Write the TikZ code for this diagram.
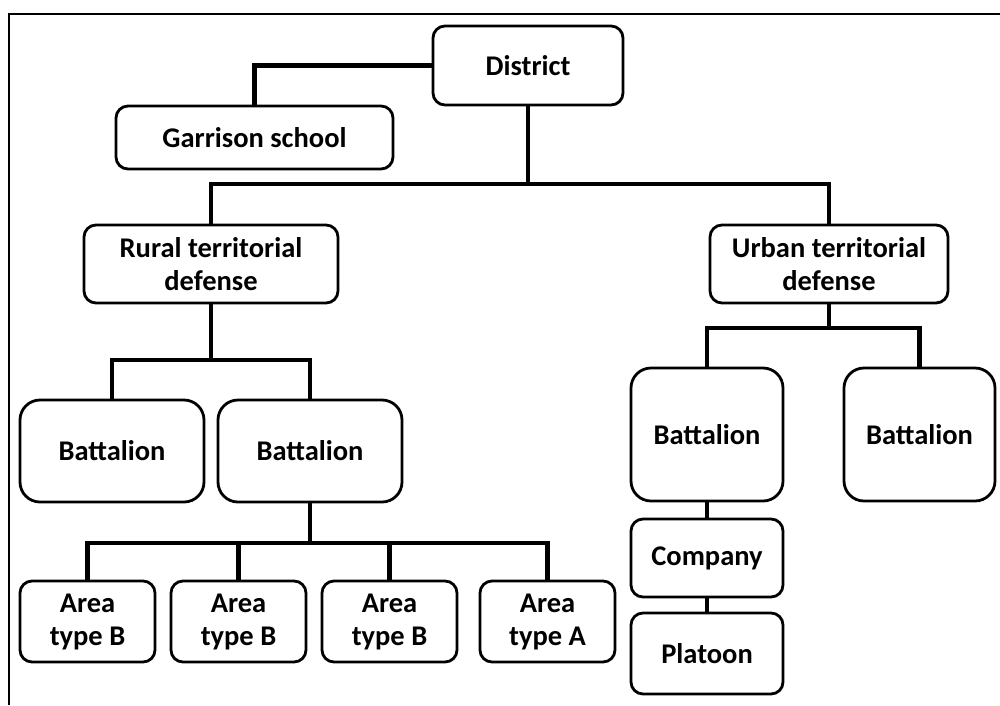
\documentclass[tikz,border=0pt]{standalone}
\usepackage{fontspec}
\setmainfont{Carlito}
\begin{document}
\begin{tikzpicture}[x=1pt,y=-1pt,
  box/.style={draw,line width=2.8pt,rounded corners=12pt,align=center,
    inner sep=0pt,font=\bfseries\fontsize{28.5}{33}\selectfont},
  bigbox/.style={box,rounded corners=20pt},
  conn/.style={line width=4.2pt}]
\useasboundingbox (0,0) rectangle (1000,705);
\draw[line width=1.3pt] (9,705) -- (9,14) -- (1000,14);
\node[box,minimum width=190pt,minimum height=79pt] (district) at (528,65.5) {District};
\node[box,minimum width=277pt,minimum height=63pt] (garrison) at (254.5,137.5) {Garrison school};
\node[box,minimum width=254pt,minimum height=78pt] (rural) at (211,264) {Rural territorial\\defense};
\node[box,minimum width=238pt,minimum height=78pt] (urban) at (829,264) {Urban territorial\\defense};
\node[bigbox,minimum width=184pt,minimum height=102pt] (bl1) at (112,451) {Battalion};
\node[bigbox,minimum width=184pt,minimum height=102pt] (bl2) at (310,451) {Battalion};
\node[box,minimum width=135pt,minimum height=81pt] (a1) at (87.5,621.5) {Area\\type B};
\node[box,minimum width=135pt,minimum height=81pt] (a2) at (238.5,621.5) {Area\\type B};
\node[box,minimum width=135pt,minimum height=81pt] (a3) at (389.5,621.5) {Area\\type B};
\node[box,minimum width=135pt,minimum height=81pt] (a4) at (547.5,621.5) {Area\\type A};
\node[bigbox,minimum width=152pt,minimum height=133pt] (br1) at (707,434.5) {Battalion};
\node[bigbox,minimum width=151pt,minimum height=133pt] (br2) at (919.5,434.5) {Battalion};
\node[box,minimum width=152pt,minimum height=78pt] (company) at (707,558) {Company};
\node[box,minimum width=152pt,minimum height=81pt] (platoon) at (707,653.5) {Platoon};
\coordinate (j1) at (528,184);
\coordinate (j2) at (211,360);
\coordinate (j3) at (310,543);
\coordinate (j4) at (829,328);
\draw[conn] (district.west) -| (garrison.north);
\draw[conn] (district.south) -- (j1);
\draw[conn] (rural.north) |- (j1) -| (urban.north);
\draw[conn] (rural.south) -- (j2);
\draw[conn] (bl1.north) |- (j2) -| (bl2.north);
\draw[conn] (bl2.south) -- (j3);
\draw[conn] (a1.north) |- (j3) -| (a4.north);
\draw[conn] (a2.north) -- (a2.north |- j3);
\draw[conn] (a3.north) -- (a3.north |- j3);
\draw[conn] (urban.south) -- (j4);
\draw[conn] (br1.north) |- (j4) -| (br2.north);
\draw[conn] (br1.south) -- (company.north);
\draw[conn] (company.south) -- (platoon.north);
\end{tikzpicture}
\end{document}
